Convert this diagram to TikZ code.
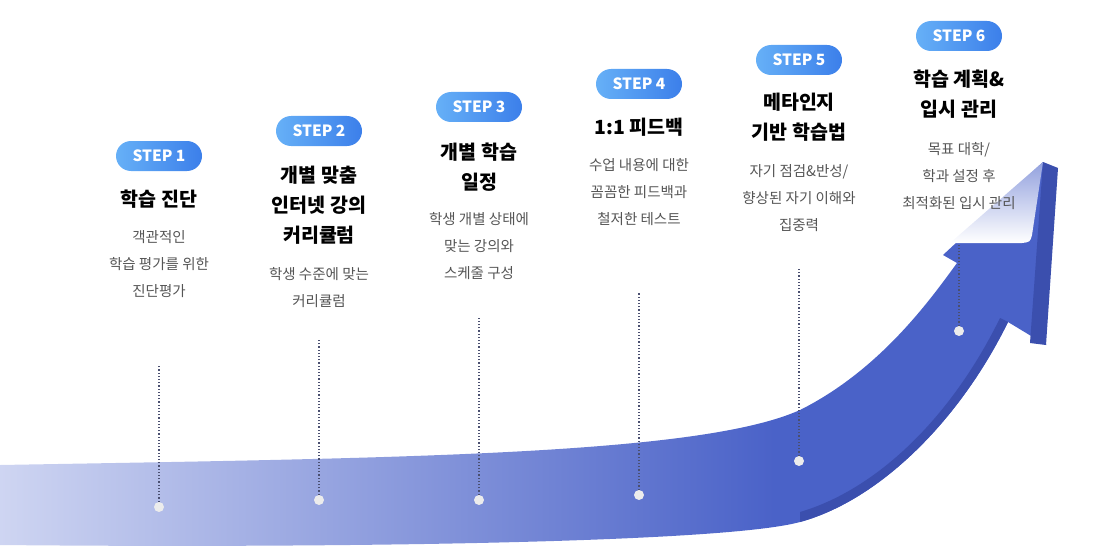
\documentclass[tikz,border=0pt]{standalone}
\usepackage{fontspec}
\setmainfont{Noto Sans CJK KR}
\usetikzlibrary{positioning}
\definecolor{arrowblue}{HTML}{4A62C8}
\definecolor{arrowdark}{HTML}{3B4FAE}
\definecolor{arrowpale}{HTML}{F2F4FD}
\definecolor{badgeA}{HTML}{66B0F7}
\definecolor{badgeB}{HTML}{3C7FEA}
\definecolor{desctext}{HTML}{555555}
\definecolor{dotline}{HTML}{4A4F70}
\pgfdeclarehorizontalshading{bandshade}{100bp}{color(0bp)=(arrowpale); color(15bp)=(arrowpale); color(62bp)=(arrowblue); color(100bp)=(arrowblue)}
\tikzset{
  stepbadge/.style={rounded corners=15pt,minimum width=86pt,minimum height=30pt,left color=badgeA,right color=badgeB,text=white,font=\fontsize{15.5}{15}\selectfont\bfseries,inner sep=0pt},
  steptitle/.style={align=center,anchor=north,inner sep=0pt,font=\fontsize{19.5}{30}\selectfont\bfseries,text=black},
  stepdesc/.style={align=center,anchor=north,inner sep=0pt,font=\fontsize{14.5}{27}\selectfont,text=desctext},
  stepdot/.style={circle,fill=gray!15,minimum size=10pt,inner sep=0pt},
  stepline/.style={dotline,dotted,line width=1.2pt}
}
\begin{document}
\begin{tikzpicture}[x=1pt,y=-1pt]
\useasboundingbox (0,0) rectangle (1118,559);

% arrow band
\shade[shading=bandshade] (0,465) .. controls (400,458) and (700,455) .. (800,410)
  .. controls (880,370) and (930,300) .. (957,263) -- (943,255) -- (1043,162) -- (1046,345)
  -- (1008,322) .. controls (960,420) and (880,500) .. (800,522)
  .. controls (720,544) and (300,548) .. (0,545) -- cycle;
\fill[arrowdark] (1043,162) -- (1058,168) -- (1046,345) -- (1030,343) -- cycle;
\fill[arrowdark] (1008,322) .. controls (960,420) and (880,500) .. (800,522) -- (800,512) .. controls (875,490) and (950,420) .. (1000,318) -- cycle;
\shade[top color=arrowblue!60,bottom color=white] (1043,162) -- (1032,235) .. controls (1030,242) .. (1022,243) -- (950,243) -- cycle;

% 1
\node[stepbadge] (S1) at (159,156) {STEP 1};
\node[steptitle] (T1) at (159,190) {학습 진단};
\node[stepdesc] (D1) at (159,230) {객관적인\\학습 평가를 위한\\진단평가};
\node[stepdot] (P1) at (159,507) {};
\coordinate (L1) at (159,365);
\draw[stepline] (P1) -- (L1);

% 2
\node[stepbadge] (S2) at (319,131) {STEP 2};
\node[steptitle] (T2) at (319,166) {개별 맞춤\\인터넷 강의\\커리큘럼};
\node[stepdesc] (D2) at (319,267) {학생 수준에 맞는\\커리큘럼};
\node[stepdot] (P2) at (319,500) {};
\coordinate (L2) at (319,340);
\draw[stepline] (P2) -- (L2);

% 3
\node[stepbadge] (S3) at (479,107) {STEP 3};
\node[steptitle] (T3) at (479,143) {개별 학습\\일정};
\node[stepdesc] (D3) at (479,212) {학생 개별 상태에\\맞는 강의와\\스케줄 구성};
\node[stepdot] (P3) at (479,500) {};
\coordinate (L3) at (479,318);
\draw[stepline] (P3) -- (L3);

% 4
\node[stepbadge] (S4) at (639,84) {STEP 4};
\node[steptitle] (T4) at (639,118) {1:1 피드백};
\node[stepdesc] (D4) at (639,158) {수업 내용에 대한\\꼼꼼한 피드백과\\철저한 테스트};
\node[stepdot] (P4) at (639,495) {};
\coordinate (L4) at (639,292);
\draw[stepline] (P4) -- (L4);

% 5
\node[stepbadge] (S5) at (799,60) {STEP 5};
\node[steptitle] (T5) at (799,93) {메타인지\\기반 학습법};
\node[stepdesc] (D5) at (799,164) {자기 점검\&반성/\\향상된 자기 이해와\\집중력};
\node[stepdot] (P5) at (799,461) {};
\coordinate (L5) at (799,268);
\draw[stepline] (P5) -- (L5);

% 6
\node[stepbadge] (S6) at (959,36) {STEP 6};
\node[steptitle] (T6) at (959,70) {학습 계획\&\\입시 관리};
\node[stepdesc] (D6) at (959,142) {목표 대학/\\학과 설정 후\\최적화된 입시 관리};
\node[stepdot] (P6) at (959,331) {};
\coordinate (L6) at (959,245);
\draw[stepline] (P6) -- (L6);

\end{tikzpicture}
\end{document}
